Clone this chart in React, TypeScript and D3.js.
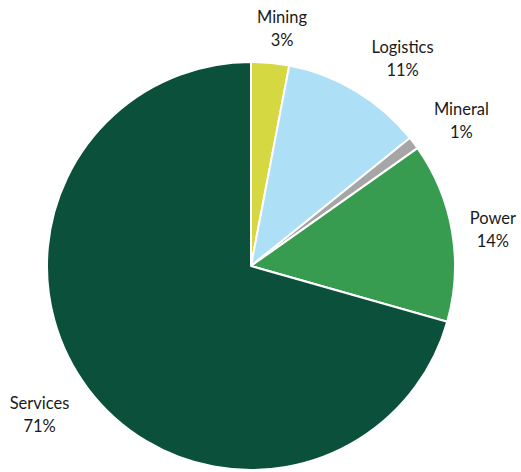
import React from "react";
import * as d3 from "d3";

const categories = ["Mining", "Logistics", "Mineral", "Power", "Services"];
const values = [3.0, 11.2, 1.0, 14.2, 70.6];
const labels = ["3%", "11%", "1%", "14%", "71%"];
const colors = ["#d6d842", "#addff7", "#a6a6a6", "#379c50", "#0b503a"];

// label layout nudges (px), keyed by category
const labelNudge: Record<string, [number, number]> = {
  Mining: [7.5, 11],
  Logistics: [23, 7],
  Mineral: [11, 5],
  Power: [-4.5, 6],
  Services: [-12, -2],
};

const W = 521;
const H = 472;
const cx = 251;
const cy = 266;
const R = 204;

export default function App() {
  const pie = d3
    .pie<number>()
    .sort(null)
    .value((d) => d);
  const arcs = pie(values);
  const arc = d3.arc<d3.PieArcDatum<number>>().innerRadius(0).outerRadius(R);
  const labelArc = d3
    .arc<d3.PieArcDatum<number>>()
    .innerRadius(250)
    .outerRadius(250);

  return (
    <svg
      width={W}
      height={H}
      style={{ position: "absolute", left: 0, top: 0, background: "#fff" }}
    >
      <g transform={`translate(${cx},${cy})`}>
        {arcs.map((a, i) => (
          <path
            key={categories[i]}
            d={arc(a) || ""}
            fill={colors[i]}
            stroke="#fff"
            strokeWidth={2}
            strokeLinejoin="round"
          />
        ))}
        {arcs.map((a, i) => {
          const [x, y] = labelArc.centroid(a);
          const [nx, ny] = labelNudge[categories[i]];
          return (
            <text
              key={"l" + categories[i]}
              x={x + nx}
              y={y + ny}
              textAnchor="middle"
              fontFamily="Lato, 'Open Sans', sans-serif"
              fontSize={16.5}
              fill="#1a1a1a"
            >
              <tspan x={x + nx} y={y + ny - 11.5} dominantBaseline="central">
                {categories[i]}
              </tspan>
              <tspan x={x + nx} y={y + ny + 11.5} dominantBaseline="central">
                {labels[i]}
              </tspan>
            </text>
          );
        })}
      </g>
    </svg>
  );
}
